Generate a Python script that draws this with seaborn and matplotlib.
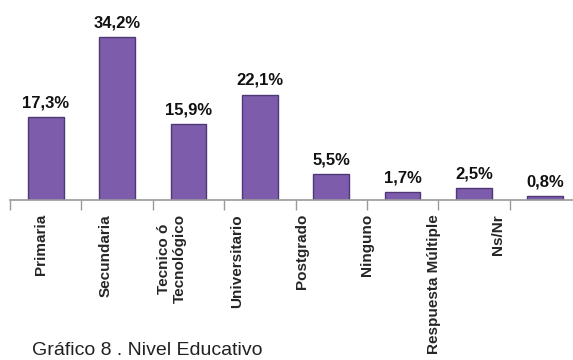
import numpy as np
import pandas as pd
import seaborn as sns
import matplotlib
matplotlib.use("Agg")
import matplotlib.pyplot as plt

categories = ["Primaria", "Secundaria", "Tecnico ó\nTecnológico", "Universitario",
              "Postgrado", "Ninguno", "Respuesta Múltiple", "Ns/Nr"]
values = [17.3, 34.2, 15.9, 22.1, 5.5, 1.7, 2.5, 0.8]
value_labels = ["17,3%", "34,2%", "15,9%", "22,1%", "5,5%", "1,7%", "2,5%", "0,8%"]
title = "Gráfico 8 . Nivel Educativo"

sns.set_theme(style="white")
plt.rcParams['font.family'] = ['Liberation Sans', 'DejaVu Sans']

W, H = 573, 360
fig = plt.figure(figsize=(W / 100, H / 100), dpi=100)
left_px, right_px = 10, 581
base_px, top_px = 200, 9.2
ax = fig.add_axes([left_px / W, 1 - base_px / H, (right_px - left_px) / W, (base_px - top_px) / H])

df = pd.DataFrame({"cat": categories, "val": values})
sns.barplot(data=df, x="cat", y="val", ax=ax, color="#7d5cab", width=0.5,
            edgecolor="#4e3876", linewidth=1.0, saturation=1)
ax.set_ylim(0, 40)
ax.set_xlim(-0.5, len(categories) - 0.5)

for i, (v, lab) in enumerate(zip(values, value_labels)):
    ax.text(i, v + 1.4, lab, ha="center", va="bottom", fontsize=12,
            fontweight="bold", color="#111111")

for s in ["top", "right", "left"]:
    ax.spines[s].set_visible(False)
ax.spines["bottom"].set_color("#9a9a9a")
ax.spines["bottom"].set_linewidth(1.2)
ax.set_yticks([])
ax.set_xlabel("")
ax.set_ylabel("")

# boundary ticks
ax.set_xticks(np.arange(len(categories)) - 0.5, minor=True)
ax.tick_params(axis="x", which="minor", length=7, width=1.0, color="#9a9a9a", direction="out", bottom=True)

# label positions (spacing in reference slightly narrower than categories)
label_px = [41, 106, 172, 237, 302, 367, 434, 498]
step = (right_px - left_px) / len(categories)
label_pos = [(p - left_px) / step - 0.5 for p in label_px]
ax.set_xticks(label_pos)
ax.set_xticklabels(categories, rotation=90, fontsize=11, fontweight="bold",
                   va="top", ha="center", multialignment="center")
ax.tick_params(axis="x", which="major", length=0, pad=10)

fig.text(32 / W, 1 - 359 / H, title, ha="left", va="bottom", fontsize=14, color="#222222")

fig.savefig("out.png", dpi=100)
